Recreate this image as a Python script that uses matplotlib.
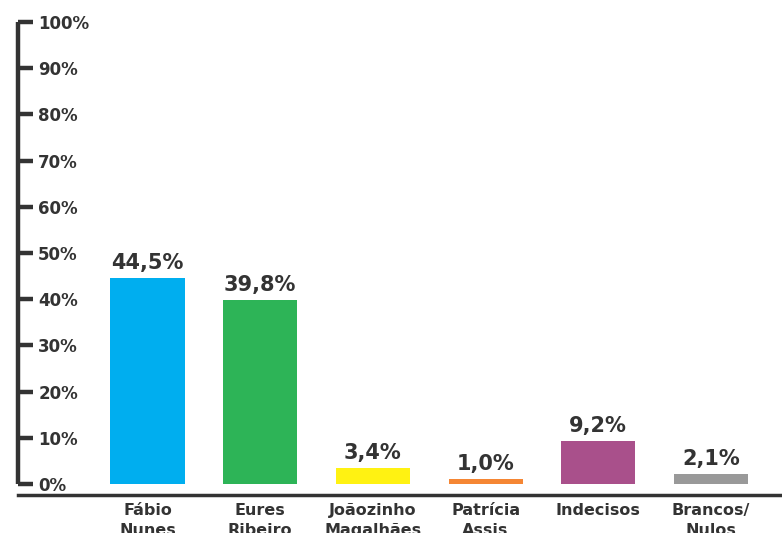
import matplotlib
matplotlib.use("Agg")
import matplotlib.pyplot as plt
from matplotlib.ticker import FuncFormatter

categories = ["Fábio\nNunes", "Eures\nRibeiro", "Joãozinho\nMagalhães",
              "Patrícia\nAssis", "Indecisos", "Brancos/\nNulos"]
values = [44.5, 39.8, 3.4, 1.0, 9.2, 2.1]
value_labels = ["44,5%", "39,8%", "3,4%", "1,0%", "9,2%", "2,1%"]
colors = ["#00AEEF", "#2DB457", "#FFF212", "#F58634", "#A9508B", "#999999"]
yticks = [0, 10, 20, 30, 40, 50, 60, 70, 80, 90, 100]

W, H = 782, 533
fig = plt.figure(figsize=(W / 100, H / 100), dpi=100)
fig.patch.set_facecolor("white")

FONT = "DejaVu Sans"
TXT = "#333333"

# axes in pixel coords: left 18, right 782, data-0 at y=484, data-100 at y=22
ax = fig.add_axes([18 / W, (H - 484) / H, (782 - 18) / W, (484 - 22) / H])
ax.set_facecolor("white")

x = list(range(len(categories)))
ax.bar(x, values, width=0.657, color=colors, edgecolor="none")

px_per_unit = 112.7
ax.set_xlim(-(147.5 - 18) / px_per_unit, (782 - 147.5) / px_per_unit)
ax.set_ylim(0, 100)

for xi, v, lbl in zip(x, values, value_labels):
    ax.annotate(lbl, (xi, v), xytext=(0, 4), textcoords="offset points",
                ha="center", va="bottom", fontsize=15, fontweight="bold",
                color=TXT, family=FONT)

# spines
for s in ["top", "right"]:
    ax.spines[s].set_visible(False)
ax.spines["left"].set_linewidth(3.2)
ax.spines["left"].set_color(TXT)
ax.spines["left"].set_bounds(0, 100)
ax.spines["left"].set_capstyle("butt")
ax.spines["bottom"].set_linewidth(2.5)
ax.spines["bottom"].set_color(TXT)
ax.spines["bottom"].set_position(("outward", 8))

ax.set_yticks(yticks)
ax.yaxis.set_major_formatter(FuncFormatter(lambda v, p: f"{int(v)}%"))
ax.tick_params(axis="y", direction="in", length=11, width=3.2, color=TXT,
               pad=-14.5, labelsize=12, labelcolor=TXT)
for t in ax.get_yticklabels():
    t.set_horizontalalignment("left")
    t.set_fontweight("bold")
    t.set_family(FONT)

ax.set_xticks(x)
ax.set_xticklabels(categories)
ax.tick_params(axis="x", length=0, pad=6, labelsize=11.5, labelcolor=TXT)
for t in ax.get_xticklabels():
    t.set_fontweight("bold")
    t.set_family(FONT)
    t.set_verticalalignment("top")
    t.set_linespacing(1.35)

fig.savefig("out.png", dpi=100, facecolor="white")
